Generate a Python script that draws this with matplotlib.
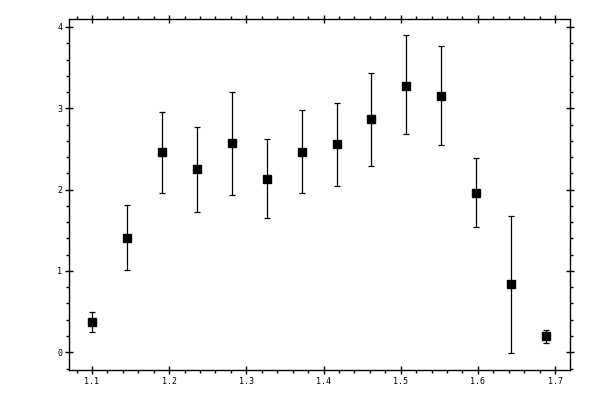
import matplotlib
matplotlib.use("Agg")
import matplotlib.pyplot as plt
from matplotlib.ticker import MultipleLocator
import numpy as np

x = [1.100, 1.1457, 1.191, 1.2364, 1.2817, 1.3267, 1.3724, 1.4169, 1.4618, 1.5072, 1.5525, 1.5978, 1.6434, 1.6886]
y = [0.37, 1.40, 2.46, 2.25, 2.57, 2.13, 2.46, 2.56, 2.87, 3.28, 3.15, 1.96, 0.84, 0.20]
y_hi = [0.49, 1.81, 2.96, 2.77, 3.20, 2.62, 2.98, 3.07, 3.44, 3.90, 3.76, 2.39, 1.68, 0.28]
y_lo = [0.25, 1.01, 1.96, 1.72, 1.93, 1.65, 1.96, 2.04, 2.29, 2.68, 2.55, 1.54, -0.01, 0.11]

xticks = [1.1, 1.2, 1.3, 1.4, 1.5, 1.6, 1.7]
xticklabels = ["1.1", "1.2", "1.3", "1.4", "1.5", "1.6", "1.7"]
yticks = [0, 1, 2, 3, 4]
yticklabels = ["0", "1", "2", "3", "4"]

fig = plt.figure(figsize=(6, 4), dpi=100)
ax = fig.add_axes([0.1155, 0.075, 0.8345, 0.8775])

yv = np.array(y)
err = [yv - np.array(y_lo), np.array(y_hi) - yv]
ax.errorbar(x, y, yerr=err, fmt="s", color="black", ms=5.2, elinewidth=0.9,
            capsize=2.0, capthick=0.9, mec="black", mfc="black")

ax.set_xlim(1.0706, 1.7194)
ax.set_ylim(-0.218, 4.098)
ax.set_xticks(xticks)
ax.set_xticklabels(xticklabels)
ax.set_yticks(yticks)
ax.set_yticklabels(yticklabels)
ax.xaxis.set_minor_locator(MultipleLocator(0.02))
ax.yaxis.set_minor_locator(MultipleLocator(0.2))

for s in ax.spines.values():
    s.set_linewidth(1.0)

ax.tick_params(which="major", direction="inout", length=6, width=1.0,
               top=True, right=True, labelsize=6, pad=2)
ax.tick_params(which="minor", direction="out", length=2.5, width=1.0,
               top=True, right=True)
for lab in ax.get_xticklabels() + ax.get_yticklabels():
    lab.set_family("DejaVu Sans Mono")

fig.savefig("out.png", dpi=100)
